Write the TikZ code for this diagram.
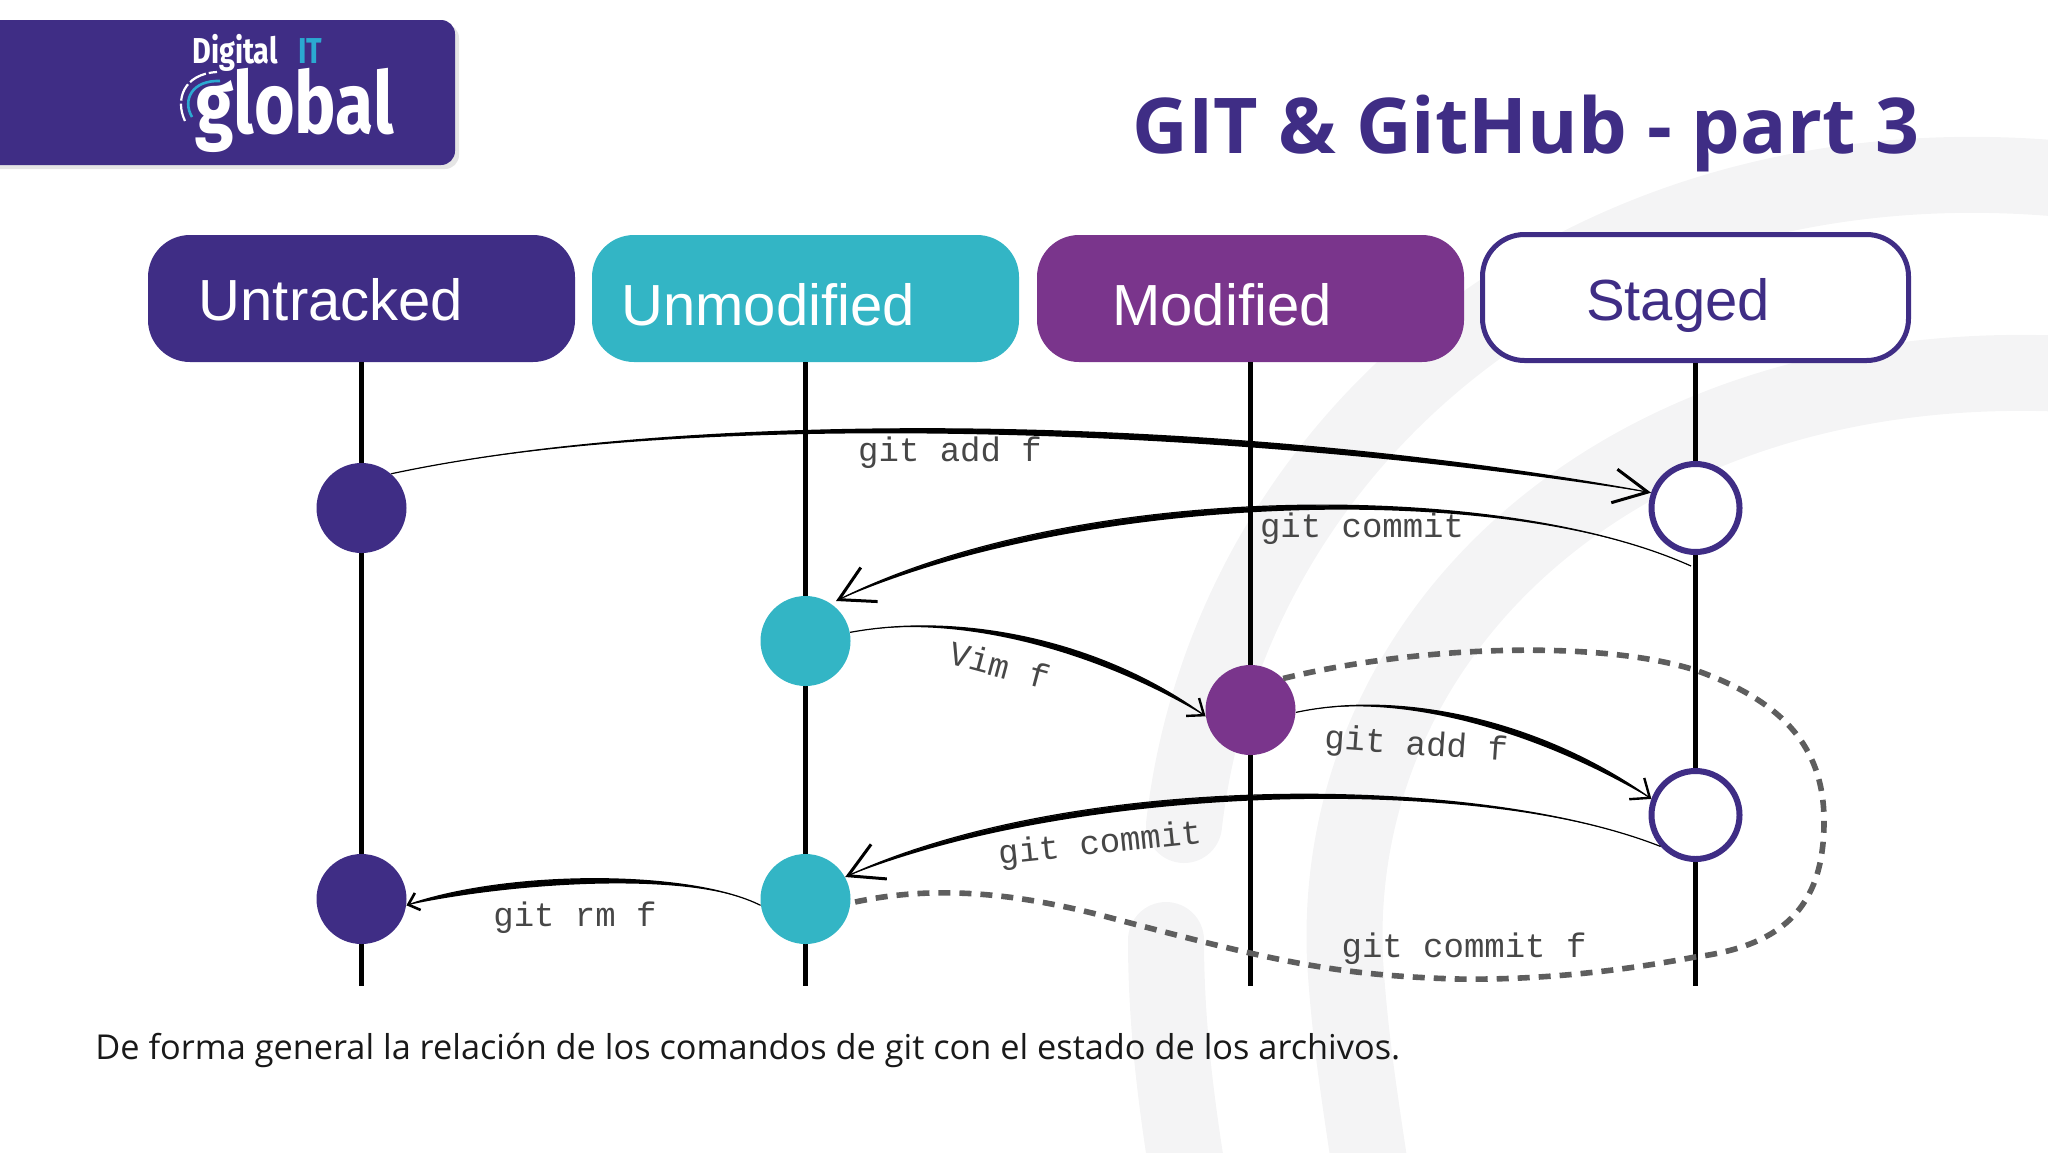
\documentclass[tikz,border=0pt]{standalone}
\usepackage{fontspec}
\setmainfont{Open Sans}
\newfontfamily\boxfont{Liberation Sans}
\newfontfamily\cmdfont{Liberation Mono}
\newfontfamily\logofont{Fira Sans}
\usepackage{xcolor}
\usepackage{tikz}
\usetikzlibrary{shadows}
\usetikzlibrary{arrows.meta}
\definecolor{gitnavy}{HTML}{3F2D85}
\definecolor{gitteal}{HTML}{33B5C5}
\definecolor{gitplum}{HTML}{7A358C}
\definecolor{gitcyan}{HTML}{2BA9D1}
\definecolor{gitmark}{HTML}{F4F4F5}
\definecolor{gitdash}{HTML}{5E5E5E}
\tikzstyle{statebox}=[rectangle,rounded corners=21pt,minimum width=213.5pt,minimum height=63.5pt,inner sep=0pt]
\tikzstyle{statevertex}=[circle,minimum size=45pt,inner sep=0pt]
\tikzstyle{emptyvertex}=[circle,draw=gitnavy,fill=white,line width=3pt,minimum size=44pt,inner sep=0pt]
\tikzstyle{lifeline}=[draw,black,line width=2.5pt]
\tikzstyle{flowedge}=[draw,black,line width=0.6pt]
\tikzstyle{dashededge}=[draw,gitdash,line width=2.8pt,dash pattern=on 6pt off 4.5pt]
\tikzstyle{boxlabel}=[font=\boxfont\fontsize{29pt}{32pt}\selectfont,inner sep=0pt]
\tikzstyle{cmdlabel}=[font=\cmdfont\fontsize{17pt}{20pt}\selectfont,text=black!72,inner sep=0pt]
\tikzstyle{markband}=[draw,gitmark,line width=38pt,line cap=round]

\begin{document}
\begin{tikzpicture}[x=0.5pt,y=-0.5pt]
 \useasboundingbox (0,0) rectangle (2048,1152);

 %background mark
 \path[markband] (2100,183) .. controls (1600,120) and (1230,430) .. (1184,825);
 \path[markband] (2100,376) .. controls (1640,340) and (1330,620) .. (1345,960) .. controls (1350,1040) and (1360,1100) .. (1375,1200);
 \path[markband] (1166,940) .. controls (1166,1020) and (1175,1100) .. (1192,1200);

 %logo
 \node[rectangle,fill=gitnavy,rounded corners=7pt,minimum width=242.5pt,minimum height=72.5pt,inner sep=0pt,
       drop shadow={shadow xshift=2pt,shadow yshift=-2pt,fill=black!20}] (logobox) at (212.5,92.5) {};
 \node[font=\logofont\bfseries\fontsize{18pt}{20pt}\selectfont,text=white,anchor=base west,inner sep=0pt,xscale=.8,transform shape] (logodigital) at (192,63) {Digital};
 \node[font=\logofont\bfseries\fontsize{18pt}{20pt}\selectfont,text=gitcyan,anchor=base west,inner sep=0pt,xscale=.8,transform shape] (logoit) at (298,63) {IT};
 \node[font=\logofont\bfseries\fontsize{43pt}{46pt}\selectfont,text=white,anchor=base west,inner sep=0pt,xscale=.81,transform shape] (logoglobal) at (195,133) {global};
 \draw[white,line width=1.1pt,dash pattern=on 9pt off 1.5pt] (185,121) .. controls (175,100) and (183,74) .. (217,72);
 \draw[gitcyan,line width=1.3pt] (192,117) .. controls (182,100) and (192,80) .. (220,81);

 %title
 \node[font=\bfseries\fontsize{38.5pt}{44pt}\selectfont,text=gitnavy,anchor=base,inner sep=0pt] (title) at (1526,153) {GIT \& GitHub - part 3};

 %state boxes and their lines
 \foreach \x/\name/\col in {361.5/untracked/gitnavy, 805.5/unmodified/gitteal, 1250.5/modified/gitplum}
   \node[statebox,fill=\col] (\name) at (\x,298.5) {};
 \node[statebox,draw=gitnavy,fill=white,line width=2.5pt,minimum width=213pt,minimum height=63pt] (staged) at (1695.5,297.5) {};

 \node[boxlabel,text=white] (untrackedtext) at (331,300) {Untracked};
 \node[boxlabel,text=white] (unmodifiedtext) at (768,305) {Unmodified};
 \node[boxlabel,text=white] (modifiedtext) at (1222,305) {Modified};
 \node[boxlabel,text=gitnavy] (stagedtext) at (1678,305) {Staged};

 \foreach \x/\name in {361.5/untracked, 805.5/unmodified, 1250.5/modified, 1695.5/staged} {
   \coordinate (\name end) at (\x,986);
   \path[lifeline] (\name) -- (\name end);
 }

 %file states
 \foreach \x/\y/\name/\col in {361.5/508/untA/gitnavy, 361.5/899/untB/gitnavy, 805.5/641/unmA/gitteal, 805.5/899/unmB/gitteal, 1250.5/710/modA/gitplum}
   \node[statevertex,fill=\col] (\name) at (\x,\y) {};
 \foreach \y/\name in {508/stgA, 815/stgB}
   \node[emptyvertex] (\name) at (1695.5,\y) {};

 \coordinate (commitstart) at (1691,566);
 \coordinate (commitend) at (836,601);

 %transitions
 \foreach \source/\dest/\ax/\ay/\bx/\by/\tl/\tw/\tb in {
     untA.49/stgA.161/680/412/1200/410/17/17/1.5,
     commitstart/commitend/1500/480/1080/480/17/19/1.5,
     unmA.11/modA.188/960/612/1100/640/7/11/1.2,
     modA.357/stgB.160/1400/690/1540/720/8/13/1.2,
     stgB.222/unmB.29/1480/775/1080/770/17/19/1.5,
     unmB.188/untB.352/690/870/510/870/5/9/1.3} {
   \path[flowedge,-{Straight Barb[length=\tl pt,width=\tw pt,line width=\tb pt]}] (\source) .. controls (\ax,\ay) and (\bx,\by) .. (\dest);
   \fill[black] (\source) .. controls (\ax,\ay) and (\bx,\by) .. (\dest) .. controls (\bx,\by+13) and (\ax,\ay) .. (\source);
 }

 \path[dashededge] (modA.44) .. controls (1420,645) and (1600,640) .. (1695,670)
    .. controls (1780,700) and (1824,745) .. (1824,821)
    .. controls (1824,900) and (1790,945) .. (1695,957)
    .. controls (1600,975) and (1520,980) .. (1457,979)
    .. controls (1330,975) and (1270,960) .. (1100,915)
    .. controls (1010,892) and (930,885) .. (unmB.355);

 %command labels
 \foreach \x/\y/\ang/\name/\label in {950/453/0/addA/git add f, 1362/529/0/commitA/git commit, 1000/665/-15/vim/Vim f,
     1416/746/-4/addB/git add f, 1100/845/6/commitB/git commit, 575/918/0/rm/git rm f, 1464/949/0/commitC/git commit f}
   \node[cmdlabel,rotate=\ang] (\name) at (\x,\y) {\label};

 \node[font=\fontsize{17.15pt}{20pt}\selectfont,text=black!90,anchor=base west,inner sep=0pt] (caption) at (95,1059) {De forma general la relación de los comandos de git con el estado de los archivos.};
\end{tikzpicture}
\end{document}
